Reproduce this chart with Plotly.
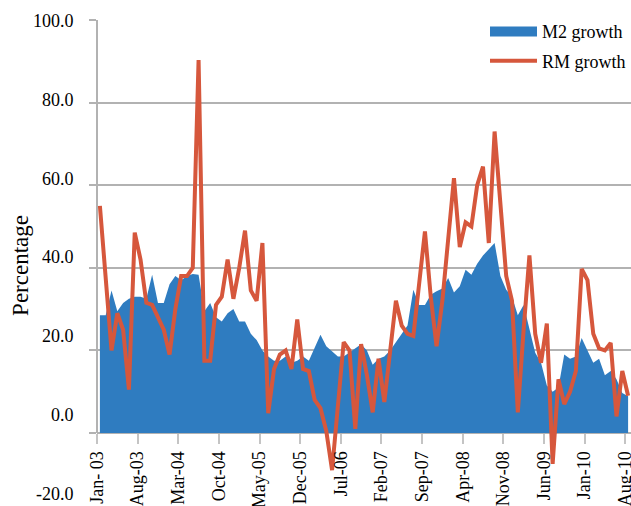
import plotly.graph_objects as go

# ---------------- data ----------------
tick_labels = ["Jan- 03", "Aug-03", "Mar-04", "Oct-04", "May-05", "Dec-05", "Jul-06",
               "Feb-07", "Sep-07", "Apr-08", "Nov-08", "Jun-09", "Jan-10", "Aug-10"]

m2_growth = [28.5, 28.5, 34.5, 29.5, 31.5, 32.5, 33, 33, 32.5, 38.3,
             31.5, 31.5, 36, 38, 37, 38, 38.5, 38.3, 29.5, 31.5,
             28, 27, 29, 30, 27, 27, 24, 22.5, 20, 18.5,
             17.5, 17.5, 18.5, 17, 17.5, 18.5, 17.5, 20.5, 23.8, 21,
             19.8, 18.5, 18.5, 19.5, 20.5, 21.5, 20, 16.5, 18, 18.5,
             20, 22, 24.2, 26, 34.7, 31, 31, 33.5, 34.3, 35,
             37.5, 34, 35.5, 39.5, 38.3, 41, 43, 44.5, 46, 38,
             34.7, 33, 28.5, 31, 25, 19.4, 17, 11.5, 10, 11,
             19, 18, 18.5, 23, 20, 17, 18, 14, 15, 13,
             9.7, 8.9]

rm_growth = [55, 37.5, 20, 29, 25, 10.5, 48.5, 42, 31.5, 31,
             28, 25, 19, 30, 38, 38, 40, 90.3, 17.5, 17.5,
             31, 33, 42, 32.5, 40, 49, 34.5, 32, 46, 4.8,
             15.5, 19, 20, 15.5, 27.5, 15.5, 15, 8, 6, 0.5,
             -9, 7, 22, 20, 1, 21.5, 14, 5, 18, 7.5,
             19, 32, 26, 24, 23.5, 36, 48.8, 33, 21, 32,
             47, 61.7, 45, 51, 50, 60, 64.5, 46, 73, 55,
             38, 32, 5, 25, 43, 24, 17, 26.5, -7.5, 13,
             7, 10, 15, 39.7, 37, 24, 20.5, 20, 21.8, 4,
             15, 9]

grid_values = [0, 20, 40, 60, 80, 100]
label_values = [100, 80, 60, 40, 20, 0, -20]

# ---------------- styling ----------------
BLUE = "#2F7CC0"
RED = "#D6573C"
GRID = "#B2B2B2"
FONT = "Liberation Serif"

months = list(range(len(m2_growth)))
tick_pos = [k * 7 - 0.5 for k in range(len(tick_labels))]

fig = go.Figure()

fig.add_trace(go.Scatter(
    x=months, y=m2_growth, mode="lines", fill="tozeroy",
    fillcolor=BLUE, line=dict(width=0, color=BLUE),
    name="M2 growth", showlegend=False, hoverinfo="skip",
    legendgroup="m2"))

# legend swatch for the area series
fig.add_trace(go.Scatter(
    x=[None], y=[None], mode="lines", line=dict(color=BLUE, width=16),
    name="M2 growth", legendgroup="m2"))

fig.add_trace(go.Scatter(
    x=months, y=rm_growth, mode="lines",
    line=dict(color=RED, width=4), name="RM growth", legendgroup="rm"))

# carrier for the label axis
fig.add_trace(go.Scatter(x=[], y=[], yaxis="y2", showlegend=False, hoverinfo="skip"))

fig.update_layout(
    width=631, height=506,
    margin=dict(l=97, r=0, t=20, b=0, autoexpand=False),
    paper_bgcolor="white", plot_bgcolor="white",
    font=dict(family=FONT, size=18, color="black"),
    showlegend=True,
    legend=dict(x=1, xanchor="right", y=1.014, yanchor="top",
                bgcolor="rgba(0,0,0,0)", font=dict(family=FONT, size=18),
                itemwidth=47, traceorder="grouped", tracegroupgap=3),
    xaxis=dict(
        range=[-0.5, 91.5], anchor="free", position=17.68 / 117.68,
        tickmode="array", tickvals=tick_pos, ticktext=tick_labels,
        tickangle=-90, ticks="outside", ticklen=10, tickwidth=2,
        tickcolor="#C4C4C4", showgrid=False, zeroline=False, showline=False,
        ticklabeloverflow="allow",
        tickfont=dict(family=FONT, size=18), automargin=False),
    yaxis=dict(
        range=[-17.68, 100], tickmode="array", tickvals=grid_values,
        showticklabels=False, ticks="outside", ticklen=7, tickwidth=2,
        tickcolor=GRID, showgrid=True, gridcolor=GRID, gridwidth=2,
        zeroline=False, showline=False, automargin=False),
    yaxis2=dict(
        overlaying="y", side="left", anchor="x",
        range=[-23.21, 100.17], tickmode="array", tickvals=label_values,
        ticktext=[f"{v:.1f}" for v in label_values],
        ticks="outside", ticklen=19, tickcolor="rgba(0,0,0,0)",
        showgrid=False, zeroline=False, showline=False,
        ticklabeloverflow="allow",
        tickfont=dict(family=FONT, size=18), automargin=False),
    shapes=[dict(type="line", xref="x domain", yref="y", x0=0, x1=0,
                 y0=0, y1=100, line=dict(color=GRID, width=2), layer="above")],
    annotations=[dict(text="Percentage", xref="paper", yref="paper",
                      x=(21 - 97) / 534, y=0.494, textangle=-90,
                      showarrow=False, xanchor="center", yanchor="middle",
                      font=dict(family=FONT, size=23, color="black"))],
)

fig.write_html("out.html", config={"displayModeBar": False},
               post_script="document.body.style.margin='0';document.body.style.overflow='hidden';")
